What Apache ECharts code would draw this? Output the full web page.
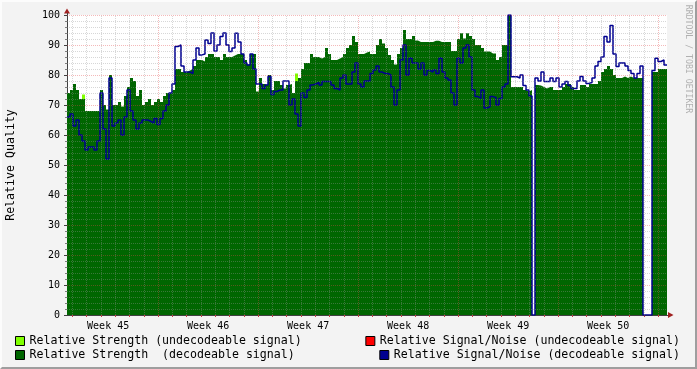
<!DOCTYPE html>
<html><head><meta charset="utf-8">
<script src="https://cdn.jsdelivr.net/npm/echarts@6/dist/echarts.min.js"></script>
<style>
html,body{margin:0;padding:0;background:#f3f3f3;}
#c{position:absolute;left:0;top:0;width:697px;height:369px;}
#frame{position:absolute;left:0;top:0;width:697px;height:369px;box-sizing:border-box;border-top:2px solid #fcfcfc;border-left:2px solid #fcfcfc;border-bottom:2px solid #9e9e9e;border-right:2px solid #9e9e9e;pointer-events:none;}
</style></head><body>
<div id="c"></div><div id="frame"></div>
<script>
// Week labels (x axis), centred on each week; x unit = days since start of Week 45
const weekLabels = ['Week 45','Week 46','Week 47','Week 48','Week 49','Week 50'];
const weekCenters = [3.5, 10.5, 17.5, 24.5, 31.5, 38.5];
const yTicks = [0,10,20,30,40,50,60,70,80,90,100];

// Sampling of the series: first sample at startDay, one sample every stepDay
const startDay = 0.62;
const stepDay = 0.21;

// Relative Strength (decodeable signal)
const strength = [
74,75,77,75,72,72,68,68,68,68,68,75,70,68.5,80,70,70,71,69.5,73,76,79,78,73,75,70,71,72,70,71,72,71,73,74,74,75,82,82,81,81,81.5,
82,83,85,85,84.5,86,87,87,86,86,85,87,86,86,86.5,87,87,87,85,83.5,87,87,74.5,79,77,76.7,80,75,78,78,76.7,75.5,76.7,77,74,78,79,82,84,84,87,
86,86,85.5,86,89,87,85,85,85.5,86,87,89,90,93,91,87,87,87.5,87.8,87,87,90,92,90.5,89,86.7,85,83.5,87,89,95,92,92,93,91.5,91,91,91,91,91,
91.4,91.4,91,91,91,91,88,88,92,93.9,92.2,93.9,93,92,90,90,89,87.8,87.8,87.2,87.2,85,86,90,90,100,76,76,76,76,75,74.5,75,0,76.7,76.5,76,75.5,76,76,
75,75,75,76,77,77,76,75,75,76.7,76.7,76,77,77,77,78,81,82,83,82,80,79,79,79.5,79,79.5,79,79,79,79,0,0,0,81,81,82,82,82
];
// Relative Strength (undecodeable signal): sample index and value
const strengthUndecIdx = [5, 76];
const strengthUndecVal = [73.5, 80.5];

// Relative Signal/Noise (decodeable signal)
const snr = [
66,67,63,65,60,58,55,56,56,55,58,74,62,52,79,63,64,65,60,66,75,68,65,62,64,65,65,64.5,64,65.5,63.5,65.5,68,70,74,77,89.5,90,83,81,81,
80.5,85,89,86.7,87,91.7,90.5,94,88,90,92.8,94,90,87.8,89,93.9,91,87,84,83.3,87,82,77,77,75.5,76.7,79.5,73.5,74.5,75,75,78,78,70,72,67,63,74,72.5,75,76.7,
77,77.5,76.7,77.8,77.8,77.8,76.7,75.5,75,79,80,77,77,81,84,77,76,78,78,80.5,81.7,83,81,80.5,80.5,80,76,70,75,85,90,80,85.6,84,84,82,84,80,81.5,81,
81.7,80.5,85.6,81,79,78.3,74,70,85.6,84,89,90,86,75,72.8,72.2,75,69,69.4,72.8,72.5,70,72.2,76,77,100,79.4,79.4,79,80,76.5,75,73,0,79,78,81,77.8,77.8,79,
77.8,79,76,77,77.8,76.5,75.5,75.5,78,79.5,78,77.2,77.5,79,83,84.5,86,92.8,91,96.5,87,82.8,84,84,83,81.5,80.5,79,80.5,83,0,0,0,81.5,85.6,84.5,85,83.3
];
// Relative Signal/Noise (undecodeable signal): none visible
const snrUndec = [];

const N1 = 'Relative Strength (undecodeable signal)';
const N2 = 'Relative Strength  (decodeable signal)';
const N3 = 'Relative Signal/Noise (undecodeable signal)';
const N4 = 'Relative Signal/Noise (decodeable signal)';

function stepData(arr){
  const d = arr.map((v,i)=>[startDay + i*stepDay, v]);
  d.push([startDay + arr.length*stepDay, arr[arr.length-1]]);
  return d;
}
const xMin = startDay, xMax = startDay + strength.length*stepDay;
const days = []; for(let k=1;k<=42;k++) days.push(k);

const minorLine = {color:'rgba(150,150,150,0.38)', type:[1,1], width:1};
const majorLine = {color:'rgba(225,70,70,0.38)', type:[1,1], width:1};
function gridLines(){
  const d=[];
  for(let v=2; v<100; v+=2){ if(v%10) d.push({yAxis:v, lineStyle:minorLine}); }
  for(let v=10; v<=100; v+=10) d.push({yAxis:v, lineStyle:majorLine});
  days.forEach(k=>d.push({xAxis:k, lineStyle:(k%7)?minorLine:majorLine}));
  return d;
}
const mono = 'DejaVu Sans Mono';
const chart = echarts.init(document.getElementById('c'), null, {renderer:'canvas'});
const legendCommon = {orient:'horizontal', padding:0, itemWidth:9, itemHeight:9, icon:'rect', itemGap:0,
  selectedMode:false, textStyle:{fontFamily:mono, fontSize:11.6, color:'#000'},
  itemStyle:{borderColor:'#000', borderWidth:1}};
chart.setOption({
  animation:false,
  backgroundColor:'#f3f3f3',
  grid:{left:67, top:15, width:600, height:300, show:true, backgroundColor:'#ffffff', borderWidth:0},
  xAxis:{type:'value', min:xMin, max:xMax,
    axisLine:{show:true, lineStyle:{color:'#404040', width:1}},
    axisTick:{show:true, customValues:days, length:2, lineStyle:{color:'#c04040'}},
    axisLabel:{customValues:weekCenters, formatter:v=>weekLabels[Math.round((v-3.5)/7)],
      fontFamily:mono, fontSize:10, color:'#000', margin:6},
    splitLine:{show:false}},
  yAxis:{type:'value', min:yTicks[0], max:yTicks[yTicks.length-1], interval:10,
    axisLine:{show:true, lineStyle:{color:'#404040', width:1}},
    axisTick:{show:true, length:3, lineStyle:{color:'#404040'}},
    minorTick:{show:true, splitNumber:5, length:2, lineStyle:{color:'#808080'}},
    axisLabel:{fontFamily:mono, fontSize:10, color:'#000', margin:7},
    splitLine:{show:false}},
  legend:[
    Object.assign({left:15, top:335, data:[N1]}, legendCommon),
    Object.assign({left:15, top:349, data:[N2]}, legendCommon),
    Object.assign({right:17, top:335, data:[N3]}, legendCommon),
    Object.assign({right:17, top:349, data:[N4]}, legendCommon)
  ],
  graphic:[
    {type:'text', x:11, y:165, rotation:Math.PI/2, style:{text:'Relative Quality', fontFamily:mono, fontSize:11.6, fill:'#000', align:'center', verticalAlign:'middle'}},
    {type:'text', x:688, y:59, rotation:-Math.PI/2, style:{text:'RRDTOOL / TOBI OETIKER', fontFamily:mono, fontSize:8.2, fill:'#b0b0b0', align:'center', verticalAlign:'middle'}},
    {type:'polygon', shape:{points:[[64,13.5],[70,13.5],[67,8.5]]}, style:{fill:'#a02020'}},
    {type:'line', shape:{x1:67.5,y1:13,x2:67.5,y2:15}, style:{stroke:'#404040'}},
    {type:'polygon', shape:{points:[[668,312],[668,318],[673.5,315]]}, style:{fill:'#a02020'}},
    {type:'line', shape:{x1:666,y1:315.5,x2:668,y2:315.5}, style:{stroke:'#404040'}}
  ],
  series:[
    {name:N1, type:'bar', color:'#80ff00', barWidth:3, z:1,
      data:strengthUndecIdx.map((idx,j)=>[startDay+(idx+0.5)*stepDay, strengthUndecVal[j]]),
      itemStyle:{color:'#80ff00'}},
    {name:N2, type:'line', step:'end', color:'#006600', symbol:'none', z:2,
      lineStyle:{width:0}, areaStyle:{color:'#006600', opacity:1}, data:stepData(strength)},
    {name:N3, type:'line', color:'#ff0000', symbol:'none', data:snrUndec},
    {name:'grid', type:'line', data:[], z:3, silent:true,
      markLine:{silent:true, symbol:['none','none'], label:{show:false}, animation:false, data:gridLines()}},
    {name:N4, type:'line', step:'end', color:'#000090', symbol:'none', z:4,
      lineStyle:{width:1.5, color:'#000090'}, data:stepData(snr)}
  ]
});
</script></body></html>
